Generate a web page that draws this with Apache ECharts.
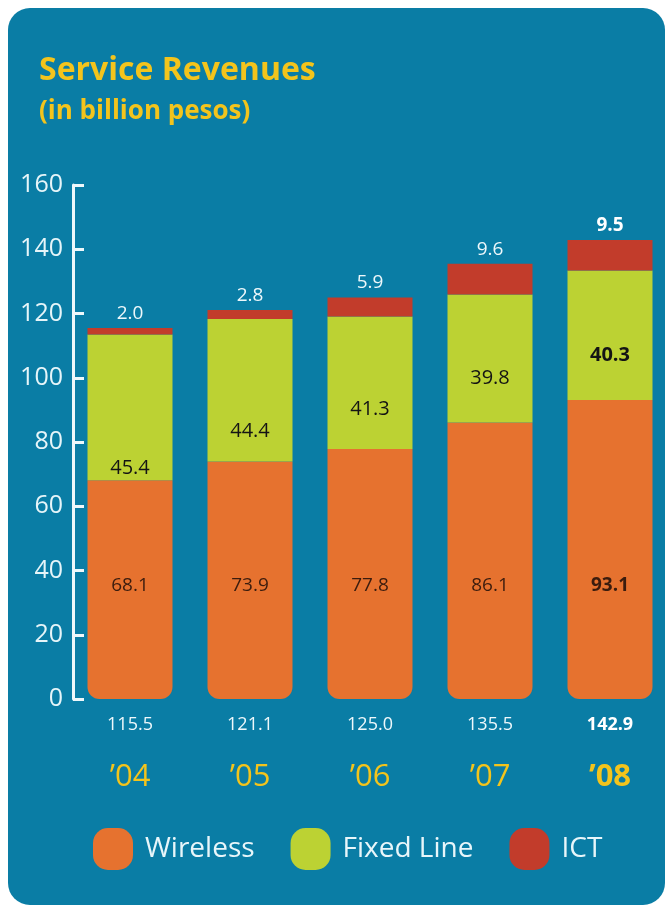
<!DOCTYPE html>
<html>
<head>
<meta charset="utf-8">
<script src="https://cdn.jsdelivr.net/npm/echarts@6/dist/echarts.min.js"></script>
<style>
html,body{margin:0;padding:0;background:#fff;}
#c{width:670px;height:909px;}
</style>
</head>
<body>
<div id="c"></div>
<script>
// ---- data ----
const categories = ['\u201904', '\u201905', '\u201906', '\u201907', '\u201908'];
const wireless = [68.1, 73.9, 77.8, 86.1, 93.1];
const fixedLine = [45.4, 44.4, 41.3, 39.8, 40.3];
const ict = [2.0, 2.8, 5.9, 9.6, 9.5];
const totals = [115.5, 121.1, 125.0, 135.5, 142.9];
const seriesNames = ['Wireless', 'Fixed Line', 'ICT'];

// ---- presentation ----
const FONT = '"Open Sans", "DejaVu Sans", sans-serif';
const PANEL = '#0a7da5';
const C_WIRE = '#e6722f', C_FIX = '#bcd233', C_ICT = '#c23c2b';
const fixedLabelShift = [61, 41, 27, 20, 20];
const last = categories.length - 1;

const chart = echarts.init(document.getElementById('c'), null, {renderer: 'canvas'});

function fmt(p) { return Number(p.value).toFixed(1); }

const legendIcon = 'path://M15,0 H25 A15,15 0 0 1 40,15 V27 A15,15 0 0 1 25,42 H15 A15,15 0 0 1 0,27 V15 A15,15 0 0 1 15,0 Z';

chart.setOption({
  backgroundColor: '#ffffff',
  animation: false,
  graphic: [{
    type: 'rect', z: -10, silent: true,
    shape: {x: 8, y: 8, width: 657, height: 897, r: 22},
    style: {fill: PANEL}
  }],
  title: {
    text: 'Service Revenues',
    subtext: '(in billion pesos)',
    left: 39, top: 55, padding: 0, itemGap: 12,
    textStyle: {color: '#f3c41c', fontFamily: FONT, fontWeight: 'bold', fontSize: 32},
    subtextStyle: {color: '#f3c41c', fontFamily: FONT, fontWeight: 'bold', fontSize: 26}
  },
  legend: {
    data: seriesNames,
    left: 93, top: 828, itemGap: 36, padding: 0,
    itemWidth: 40, itemHeight: 42,
    icon: legendIcon,
    textStyle: {color: '#e8f6fa', fontFamily: FONT, fontSize: 28, padding: [0, 0, 0, 7]}
  },
  grid: {left: 70, right: 0, top: 185, bottom: 210, containLabel: false},
  xAxis: {
    type: 'category',
    data: categories,
    axisLine: {show: false},
    axisTick: {show: false},
    axisLabel: {
      margin: 4,
      formatter: function (v, i) {
        const t = totals[i].toFixed(1);
        return i === last ? '{tb|' + t + '}\n{yb|' + v + '}' : '{t|' + t + '}\n{y|' + v + '}';
      },
      rich: {
        t: {color: '#eef8fb', fontFamily: FONT, fontSize: 18, lineHeight: 44},
        tb: {color: '#ffffff', fontFamily: FONT, fontSize: 18, fontWeight: 'bold', lineHeight: 44},
        y: {color: '#f3c41c', fontFamily: FONT, fontSize: 31, lineHeight: 60},
        yb: {color: '#f3c41c', fontFamily: FONT, fontSize: 31, fontWeight: 'bold', lineHeight: 60}
      }
    }
  },
  yAxis: {
    type: 'value', min: 0, max: 160, interval: 20,
    offset: -3,
    axisLine: {show: true, lineStyle: {color: '#eef8fb', width: 3}},
    axisTick: {show: true, inside: true, length: 11, lineStyle: {color: '#eef8fb', width: 3}},
    splitLine: {show: false},
    axisLabel: {color: '#e6f5f9', fontFamily: FONT, fontSize: 25, margin: 10}
  },
  series: [
    {
      name: 'Wireless', type: 'bar', stack: 's', barWidth: 85,
      itemStyle: {color: C_WIRE, borderRadius: [0, 0, 12, 12]},
      label: {show: true, position: 'insideBottom', distance: 104, formatter: fmt,
              color: '#3b1c0e', fontFamily: FONT, fontSize: 19},
      data: wireless.map((v, i) => ({value: v, label: i === last ? {fontWeight: 'bold'} : {}}))
    },
    {
      name: 'Fixed Line', type: 'bar', stack: 's', barWidth: 85,
      itemStyle: {color: C_FIX},
      label: {show: true, position: 'inside', formatter: fmt,
              color: '#141414', fontFamily: FONT, fontSize: 20},
      data: fixedLine.map((v, i) => ({value: v, label: {offset: [0, fixedLabelShift[i]], fontWeight: i === last ? 'bold' : 'normal'}}))
    },
    {
      name: 'ICT', type: 'bar', stack: 's', barWidth: 85,
      itemStyle: {color: C_ICT},
      label: {show: true, position: 'top', distance: 5, formatter: fmt,
              color: '#eef8fb', fontFamily: FONT, fontSize: 19},
      data: ict.map((v, i) => ({value: v, label: i === last ? {fontWeight: 'bold', color: '#ffffff'} : {}}))
    }
  ]
});
</script>
</body>
</html>
